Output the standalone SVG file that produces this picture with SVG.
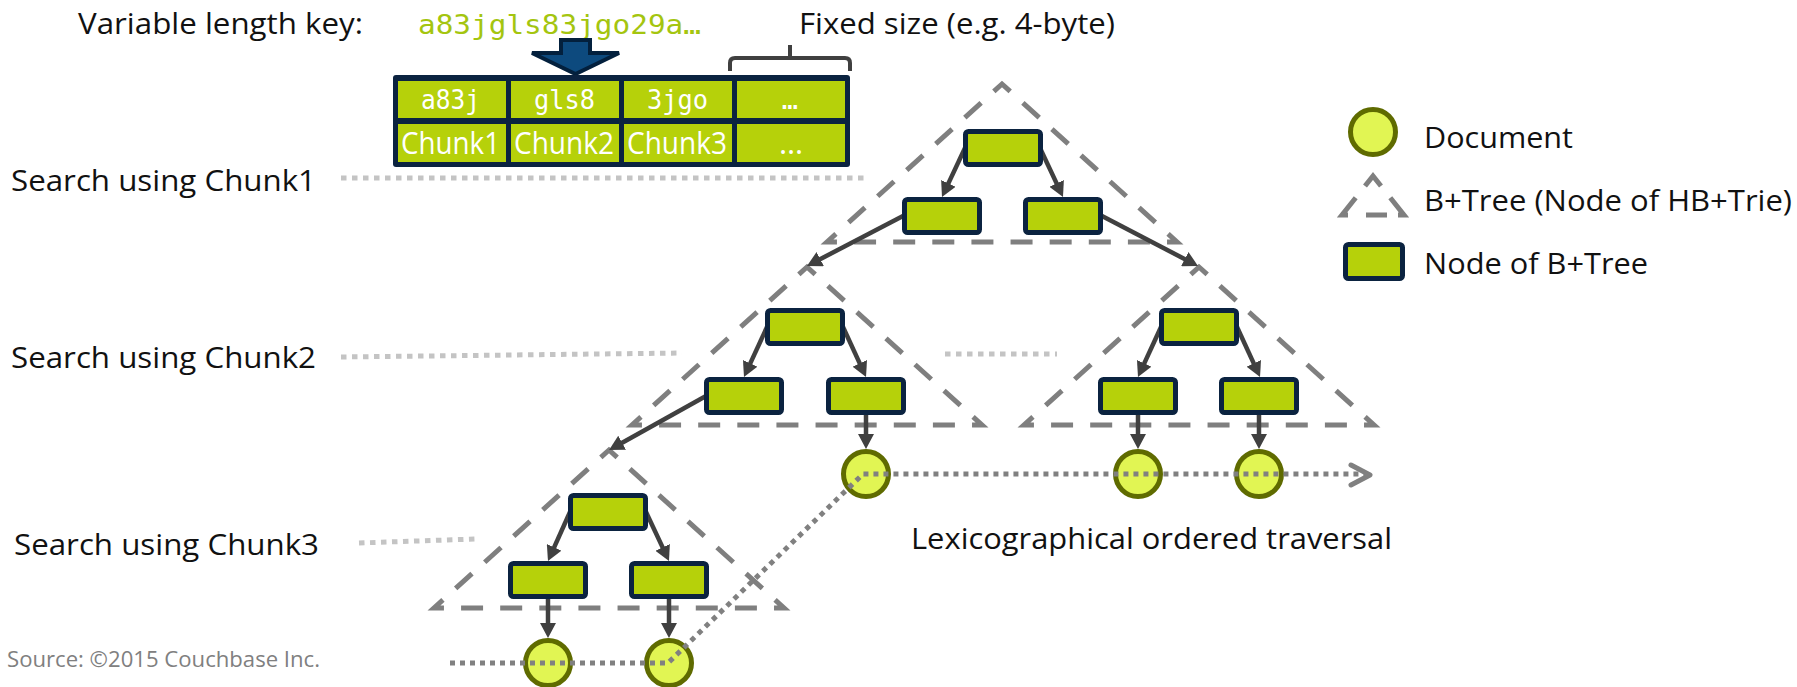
<svg xmlns="http://www.w3.org/2000/svg" width="1797" height="687" viewBox="0 0 1797 687">
  <style>
    .lbl { font-family: "Open Sans", "Noto Sans", "DejaVu Sans", sans-serif; font-size: 30px; fill: #111111; }
    .mono { font-family: "DejaVu Sans Mono", "Liberation Mono", monospace; }
    .cellmono { font-family: "DejaVu Sans Mono", "Liberation Mono", monospace; font-size: 27px; fill: #ffffff; }
    .cellsans { font-family: "Open Sans", "Noto Sans", "DejaVu Sans", sans-serif; font-size: 31px; fill: #ffffff; }
    .tri { fill: none; stroke: #7f7f7f; stroke-width: 5; stroke-dasharray: 22 17.12; stroke-dashoffset: 30.56; stroke-linejoin: miter; }
    .tri-legend { fill: none; stroke: #7f7f7f; stroke-width: 5; stroke-linejoin: miter; }
    .node { fill: #b6d10a; stroke: #0b2340; stroke-width: 5; }
    .doc { fill: #e1f553; stroke: #5f6b00; stroke-width: 5; }
    .edge { stroke: #404040; stroke-width: 4.5; fill: none; marker-end: url(#head); }
    .level { stroke: #c4c4c4; stroke-width: 5; stroke-dasharray: 5.5 5.5; fill: none; }
    .walk { stroke: #808080; stroke-width: 5; stroke-dasharray: 5 5; fill: none; }
  </style>
  <defs>
    <marker id="head" markerUnits="userSpaceOnUse" viewBox="0 0 15 16" refX="3" refY="8" markerWidth="15" markerHeight="16" orient="auto">
      <path d="M0,0 L15,8 L0,16 Z" fill="#404040"/>
    </marker>
    <!-- dashed B+tree outline, apex at the origin -->
    <path id="btree" class="tri" d="M-14.52,13.11 L-175,158 L175,158 L0,0 Z"/>
  </defs>

  <rect width="1797" height="687" fill="#ffffff"/>

  <!-- header: key and chunk table -->
  <g id="header">
    <text class="lbl" x="78" y="34" textLength="285" lengthAdjust="spacingAndGlyphs">Variable length key:</text>
    <text class="mono" x="418" y="34" font-size="27" fill="#a4c50f" textLength="283" lengthAdjust="spacingAndGlyphs">a83jgls83jgo29a…</text>
    <text class="lbl" x="799" y="34" textLength="316" lengthAdjust="spacingAndGlyphs">Fixed size (e.g. 4-byte)</text>
    <path d="M730,71 V63 Q730,58 735,58 H845 Q850,58 850,63 V71 M790,58 V45" fill="none" stroke="#404040" stroke-width="4"/>
    <path d="M561,40 H590 V53 H619 L575.5,74 L532,53 H561 Z" fill="#0d4a7e" stroke="#03203d" stroke-width="4" stroke-linejoin="miter"/>
  </g>

  <g id="chunk-table">
    <rect x="393" y="75" width="457" height="92" rx="3" fill="#0b2340"/>
    <rect x="398" y="81" width="108" height="37" fill="#b6d10a"/>
    <rect x="511" y="81" width="108" height="37" fill="#b6d10a"/>
    <rect x="624" y="81" width="108" height="37" fill="#b6d10a"/>
    <rect x="737" y="81" width="108" height="37" fill="#b6d10a"/>
    <rect x="398" y="124" width="108" height="38" fill="#b6d10a"/>
    <rect x="511" y="124" width="108" height="38" fill="#b6d10a"/>
    <rect x="624" y="124" width="108" height="38" fill="#b6d10a"/>
    <rect x="737" y="124" width="108" height="38" fill="#b6d10a"/>
    <text class="cellmono" x="421" y="109" textLength="59" lengthAdjust="spacingAndGlyphs">a83j</text>
    <text class="cellmono" x="534" y="109" textLength="61" lengthAdjust="spacingAndGlyphs">gls8</text>
    <text class="cellmono" x="647" y="109" textLength="61" lengthAdjust="spacingAndGlyphs">3jgo</text>
    <text class="cellmono" x="790" y="109" text-anchor="middle">…</text>
    <text class="cellsans" x="401" y="154" textLength="99" lengthAdjust="spacingAndGlyphs">Chunk1</text>
    <text class="cellsans" x="514" y="154" textLength="100" lengthAdjust="spacingAndGlyphs">Chunk2</text>
    <text class="cellsans" x="627" y="154" textLength="100" lengthAdjust="spacingAndGlyphs">Chunk3</text>
    <text class="cellsans" x="791" y="154" text-anchor="middle">…</text>
  </g>

  <!-- level labels and guide lines -->
  <g id="levels">
    <text class="lbl" x="11" y="191" textLength="305" lengthAdjust="spacingAndGlyphs">Search using Chunk1</text>
    <text class="lbl" x="11" y="368" textLength="305" lengthAdjust="spacingAndGlyphs">Search using Chunk2</text>
    <text class="lbl" x="14" y="555" textLength="305" lengthAdjust="spacingAndGlyphs">Search using Chunk3</text>
    <path class="level" d="M341,178 H865"/>
    <path class="level" d="M341,357 L682,353"/>
    <path class="level" d="M945,354 H1057"/>
    <path class="level" d="M359,543 L476,539"/>
  </g>

  <!-- B+tree outlines -->
  <g id="trie-1"><use href="#btree" transform="translate(1002,84)"/></g>
  <g id="trie-2"><use href="#btree" transform="translate(807,267)"/></g>
  <g id="trie-3"><use href="#btree" transform="translate(1199,267)"/></g>
  <g id="trie-4"><use href="#btree" transform="translate(609,450)"/></g>

  <!-- connectors -->
  <g id="connectors">
    <line class="edge" x1="965" y1="148" x2="947.1" y2="186.1"/>
    <line class="edge" x1="1040" y1="148" x2="1057.9" y2="186.1"/>
    <line class="edge" x1="903" y1="216" x2="817.6" y2="260.5"/>
    <line class="edge" x1="1102" y1="216" x2="1187.4" y2="260.5"/>

    <line class="edge" x1="767" y1="327" x2="749" y2="366.1"/>
    <line class="edge" x1="843" y1="327" x2="861" y2="366.1"/>
    <line class="edge" x1="706" y1="396" x2="619.5" y2="444.2"/>
    <line class="edge" x1="866" y1="415" x2="866" y2="437"/>

    <line class="edge" x1="1161" y1="327" x2="1143" y2="366.1"/>
    <line class="edge" x1="1237" y1="327" x2="1255" y2="366.1"/>
    <line class="edge" x1="1138" y1="415" x2="1138" y2="437"/>
    <line class="edge" x1="1259" y1="415" x2="1259" y2="437"/>

    <line class="edge" x1="570" y1="512" x2="552.9" y2="550.1"/>
    <line class="edge" x1="646" y1="512" x2="663.9" y2="550.1"/>
    <line class="edge" x1="548" y1="599" x2="548" y2="626"/>
    <line class="edge" x1="669" y1="599" x2="669" y2="626"/>
  </g>

  <!-- B+tree nodes -->
  <g id="t1-root"><rect class="node" x="965.5" y="131.5" width="75" height="33" rx="3"/></g>
  <g id="t1-left"><rect class="node" x="904.5" y="199.5" width="75" height="33" rx="3"/></g>
  <g id="t1-right"><rect class="node" x="1025.5" y="199.5" width="75" height="33" rx="3"/></g>

  <g id="t2-root"><rect class="node" x="767.5" y="310.5" width="75" height="33" rx="3"/></g>
  <g id="t2-left"><rect class="node" x="706.5" y="379.5" width="75" height="33" rx="3"/></g>
  <g id="t2-right"><rect class="node" x="828.5" y="379.5" width="75" height="33" rx="3"/></g>

  <g id="t3-root"><rect class="node" x="1161.5" y="310.5" width="75" height="33" rx="3"/></g>
  <g id="t3-left"><rect class="node" x="1100.5" y="379.5" width="75" height="33" rx="3"/></g>
  <g id="t3-right"><rect class="node" x="1221.5" y="379.5" width="75" height="33" rx="3"/></g>

  <g id="t4-root"><rect class="node" x="570.5" y="495.5" width="75" height="33" rx="3"/></g>
  <g id="t4-left"><rect class="node" x="510.5" y="563.5" width="75" height="33" rx="3"/></g>
  <g id="t4-right"><rect class="node" x="631.5" y="563.5" width="75" height="33" rx="3"/></g>

  <!-- documents -->
  <g id="doc-1"><circle class="doc" cx="866" cy="474" r="22.5"/></g>
  <g id="doc-2"><circle class="doc" cx="1138" cy="474" r="22.5"/></g>
  <g id="doc-3"><circle class="doc" cx="1259" cy="474" r="22.5"/></g>
  <g id="doc-4"><circle class="doc" cx="548" cy="663" r="22.5"/></g>
  <g id="doc-5"><circle class="doc" cx="669" cy="663" r="22.5"/></g>

  <!-- ordered traversal -->
  <g id="traversal">
    <path class="walk" d="M450,663 H668 L863,474 H1368"/>
    <path d="M1351,465 L1370,475 L1351,485" fill="none" stroke="#808080" stroke-width="5" stroke-linecap="round" stroke-linejoin="round"/>
    <text class="lbl" x="911" y="549" textLength="481" lengthAdjust="spacingAndGlyphs">Lexicographical ordered traversal</text>
  </g>

  <!-- legend -->
  <g id="legend">
    <circle class="doc" cx="1373" cy="132" r="22.5"/>
    <text class="lbl" x="1424" y="148" textLength="149" lengthAdjust="spacingAndGlyphs">Document</text>
    <path class="tri-legend" d="M1365,186 L1373,176 L1381,186 M1355.7,197.8 L1342,215 L1348,215 M1366,215 H1387 M1390.3,197.8 L1404,215 L1398,215"/>
    <text class="lbl" x="1424" y="211" textLength="368" lengthAdjust="spacingAndGlyphs">B+Tree (Node of HB+Trie)</text>
    <rect class="node" x="1345.5" y="244.5" width="57" height="34" rx="3"/>
    <text class="lbl" x="1424" y="274" textLength="224" lengthAdjust="spacingAndGlyphs">Node of B+Tree</text>
  </g>

  <text x="7" y="667" font-family="Open Sans, Noto Sans, DejaVu Sans, sans-serif" font-size="21" fill="#808080" textLength="313" lengthAdjust="spacingAndGlyphs">Source: ©2015 Couchbase Inc.</text>
</svg>
